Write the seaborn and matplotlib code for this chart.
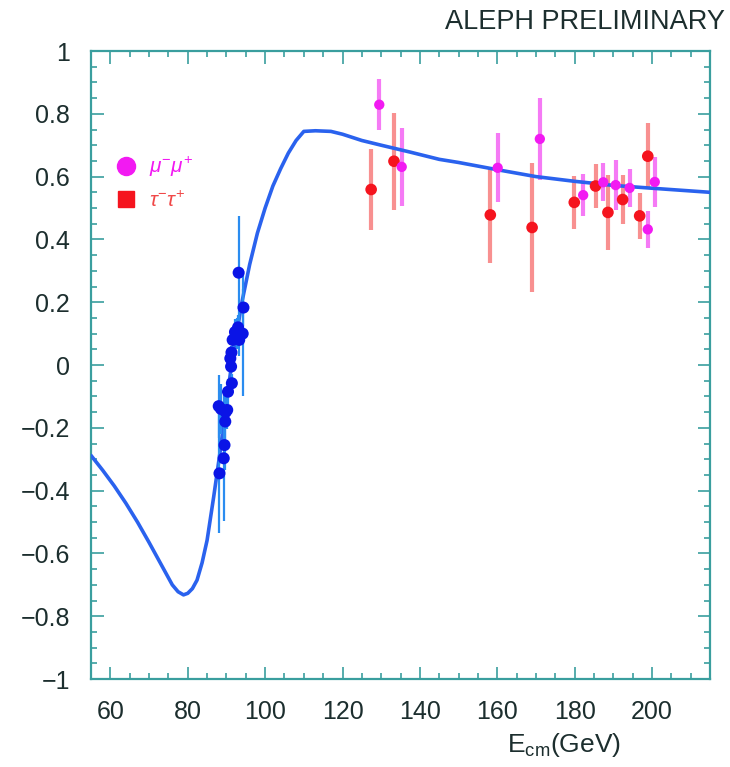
import numpy as np
import pandas as pd
import matplotlib
matplotlib.use("Agg")
import matplotlib.pyplot as plt
from matplotlib.lines import Line2D
from matplotlib.ticker import MultipleLocator
import seaborn as sns

# ---------------- data ----------------
# theoretical curve (SM prediction for A_FB)
curve_x = [55, 58, 61, 64, 67, 70, 72, 74, 76, 77.5, 78.9, 80, 81.2, 82.4, 83.7,
           85, 86.7, 88.4, 90, 91.2, 92.5, 94, 96, 98, 100, 102, 104, 106, 108,
           110, 113, 117, 120, 125, 130, 137.5, 145, 150, 160, 170, 180, 190, 200, 215]
curve_y = [-0.288, -0.335, -0.385, -0.44, -0.50, -0.565, -0.61, -0.655, -0.70, -0.722,
           -0.732, -0.727, -0.712, -0.685, -0.63, -0.558, -0.42, -0.273, -0.12, -0.01,
           0.09, 0.20, 0.32, 0.42, 0.50, 0.57, 0.625, 0.675, 0.715, 0.744, 0.746,
           0.744, 0.735, 0.715, 0.70, 0.678, 0.655, 0.645, 0.622, 0.60, 0.585, 0.572,
           0.563, 0.550]

# LEP1 (Z peak) measurements
z_x = [88.2, 88.0, 88.6, 89.3, 89.5, 89.7, 89.8, 90.2, 90.4, 91.0, 91.2, 91.4, 91.3,
       91.6, 92.2, 92.6, 93.0, 93.3, 93.15, 94.2, 94.4]
z_y = [-0.345, -0.131, -0.14, -0.297, -0.255, -0.18, -0.15, -0.143, -0.085, 0.021,
       -0.005, -0.058, 0.04, 0.08, 0.105, 0.10, 0.12, 0.08, 0.294, 0.10, 0.183]
z_err = [0.19, 0.10, 0.08, 0.20, 0.08, 0.06, 0.05, 0.06, 0.04, 0.02, 0.015, 0.03,
         0.02, 0.03, 0.04, 0.05, 0.04, 0.05, 0.18, 0.20, 0.06]

# LEP2 mu+mu-
mu_x = [129.5, 135.3, 160.1, 171.0, 182.2, 187.4, 190.6, 194.2, 198.9, 200.7]
mu_y = [0.829, 0.631, 0.628, 0.720, 0.541, 0.582, 0.573, 0.564, 0.432, 0.583]
mu_err = [0.082, 0.125, 0.11, 0.13, 0.066, 0.06, 0.08, 0.06, 0.06, 0.08]

# LEP2 tau+tau-
tau_x = [127.4, 133.3, 158.2, 169.0, 179.9, 185.4, 188.6, 192.4, 196.8, 198.9]
tau_y = [0.559, 0.649, 0.478, 0.438, 0.518, 0.570, 0.486, 0.527, 0.475, 0.665]
tau_err = [0.13, 0.155, 0.153, 0.205, 0.085, 0.07, 0.12, 0.077, 0.074, 0.105]

x_ticks = [60, 80, 100, 120, 140, 160, 180, 200]
y_ticks = [-1, -0.8, -0.6, -0.4, -0.2, 0, 0.2, 0.4, 0.6, 0.8, 1]
y_ticklabels = ["\u22121", "\u22120.8", "\u22120.6", "\u22120.4", "\u22120.2", "0",
                "0.2", "0.4", "0.6", "0.8", "1"]

# ---------------- styling ----------------
sns.set_theme(style="white")
plt.rcParams["font.family"] = ["Liberation Sans", "DejaVu Sans"]
plt.rcParams["mathtext.fontset"] = "custom"
plt.rcParams["mathtext.rm"] = "Liberation Sans"
plt.rcParams["mathtext.it"] = "Liberation Sans:italic"

FRAME = "#3a9e9e"
TEXT = "#1c2e2e"
CURVE = "#2a62ee"
BLUE = "#0a14e6"
BLUE_ERR = "#2a8cf0"
MAG = "#f21af2"
MAG_ERR = "#f57af5"
RED = "#f5141e"
RED_ERR = "#f89090"

fig = plt.figure(figsize=(7.30, 7.67), dpi=100)
ax = fig.add_axes([0.1247, 0.1147, 0.848, 0.8188])

curve = pd.DataFrame({"E": curve_x, "A": curve_y})
sns.lineplot(data=curve, x="E", y="A", ax=ax, color=CURVE, lw=2.6, zorder=3,
             sort=False)

# error bars
ax.errorbar(tau_x, tau_y, yerr=tau_err, fmt="none", ecolor=RED_ERR, elinewidth=3.0,
            capsize=0, zorder=2)
ax.errorbar(mu_x, mu_y, yerr=mu_err, fmt="none", ecolor=MAG_ERR, elinewidth=3.0,
            capsize=0, zorder=2)
ax.errorbar(z_x, z_y, yerr=z_err, fmt="none", ecolor=BLUE_ERR, elinewidth=1.6,
            capsize=0, zorder=4)

tau_df = pd.DataFrame({"E": tau_x, "A": tau_y})
mu_df = pd.DataFrame({"E": mu_x, "A": mu_y})
z_df = pd.DataFrame({"E": z_x, "A": z_y})
sns.scatterplot(data=tau_df, x="E", y="A", ax=ax, color=RED, s=70, edgecolor="none",
                zorder=5)
sns.scatterplot(data=mu_df, x="E", y="A", ax=ax, color=MAG, s=55, edgecolor="none",
                zorder=5)
sns.scatterplot(data=z_df, x="E", y="A", ax=ax, color=BLUE, s=75, edgecolor="none",
                zorder=5)

ax.set_xlim(55, 215)
ax.set_ylim(-1, 1)
ax.set_xlabel("")
ax.set_ylabel("")
ax.set_xticks(x_ticks)
ax.set_xticklabels([str(t) for t in x_ticks])
ax.set_yticks(y_ticks)
ax.set_yticklabels(y_ticklabels)
ax.xaxis.set_minor_locator(MultipleLocator(5))
ax.yaxis.set_minor_locator(MultipleLocator(0.05))
ax.tick_params(which="both", direction="in", top=True, right=True, bottom=True,
               left=True, color=FRAME, width=1.2)
ax.tick_params(which="major", length=9)
ax.tick_params(which="minor", length=4.5)
ax.tick_params(axis="x", which="major", labelsize=18, pad=15, labelcolor=TEXT)
ax.tick_params(axis="y", which="major", labelsize=18, pad=15, labelcolor=TEXT)
for sp in ax.spines.values():
    sp.set_color(FRAME)
    sp.set_linewidth(1.6)

# legend
handles = [Line2D([], [], marker="o", color=MAG, ls="none", markersize=13),
           Line2D([], [], marker="s", color=RED, ls="none", markersize=12)]
leg = ax.legend(handles, [r"$\mu^{-}\mu^{+}$", r"$\tau^{-}\tau^{+}$"],
                loc="center left", bbox_to_anchor=(0.01, 0.79), frameon=False,
                fontsize=15, handlelength=1.0, handletextpad=0.6, labelspacing=0.55,
                labelcolor=[MAG, "#f04848"])

fig.text(0.993, 0.971, "ALEPH PRELIMINARY", ha="right", va="center", fontsize=19.5,
         color=TEXT)
fig.text(0.773, 0.029, r"E$_{\rm cm}$(GeV)", ha="center", va="center", fontsize=19,
         color=TEXT)

fig.savefig("out.png", dpi=100, facecolor="white")
